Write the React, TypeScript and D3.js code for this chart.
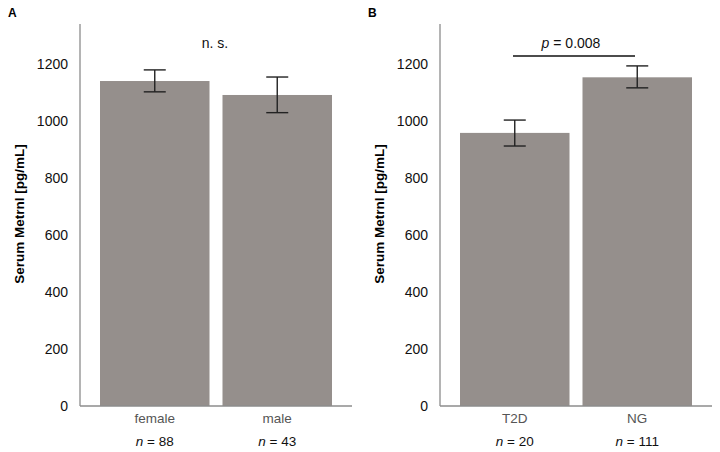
import React from "react";
import * as d3 from "d3";

const panelLabels = ["A", "B"];
const categoriesA = ["female", "male"];
const valuesA = [1140, 1091];
const errLowA = [1102, 1029];
const errHighA = [1179, 1154];
const nA = ["88", "43"];

const categoriesB = ["T2D", "NG"];
const valuesB = [958, 1153];
const errLowB = [912, 1116];
const errHighB = [1003, 1193];
const nB = ["20", "111"];

const yTicks = [0, 200, 400, 600, 800, 1000, 1200];
const yTitle = "Serum Metrnl [pg/mL]";
const annotA = "n. s.";
const annotBValue = "0.008";

const FONT = "Arial, 'Liberation Sans', Helvetica, sans-serif";
const BAR = "#958f8c";
const AXIS = "#8c8c8c";

type PanelProps = {
  x0: number;
  label: string;
  cats: string[];
  vals: number[];
  lo: number[];
  hi: number[];
  ns: string[];
  kind: "ns" | "p";
};

function Panel({ x0, label, cats, vals, lo, hi, ns, kind }: PanelProps) {
  const axisX = 80;
  const axisEnd = 352;
  const y = d3.scaleLinear().domain([0, 1340]).range([406, 24]);
  const x = d3
    .scaleBand()
    .domain(cats)
    .range([100, 332])
    .paddingInner(0.106)
    .paddingOuter(0);
  const bw = x.bandwidth();
  return (
    <g transform={`translate(${x0},0)`}>
      <text x={8} y={17} fontFamily={FONT} fontWeight="bold" fontSize={12}>
        {label}
      </text>
      <text
        transform={`translate(24,214) rotate(-90)`}
        textAnchor="middle"
        fontFamily={FONT}
        fontWeight="bold"
        fontSize={13.5}
      >
        {yTitle}
      </text>
      {yTicks.map((t) => (
        <text
          key={t}
          x={68}
          y={y(t)}
          dy="0.35em"
          textAnchor="end"
          fontFamily={FONT}
          fontSize={14}
          fill="#111"
        >
          {t}
        </text>
      ))}
      {cats.map((c, i) => (
        <rect key={c} x={x(c)} y={y(vals[i])} width={bw} height={y(0) - y(vals[i])} fill={BAR} />
      ))}
      <line x1={axisX} x2={axisX} y1={24} y2={y(0)} stroke={AXIS} strokeWidth={1.3} />
      <line x1={axisX} x2={axisEnd} y1={y(0)} y2={y(0)} stroke={AXIS} strokeWidth={1.3} />
      {cats.map((c, i) => {
        const cx = (x(c) as number) + bw / 2;
        return (
          <g key={c + "e"}>
            <line x1={cx} x2={cx} y1={y(hi[i])} y2={y(lo[i])} stroke="#222" strokeWidth={1.4} />
            <line x1={cx - 11} x2={cx + 11} y1={y(hi[i])} y2={y(hi[i])} stroke="#222" strokeWidth={1.4} />
            <line x1={cx - 11} x2={cx + 11} y1={y(lo[i])} y2={y(lo[i])} stroke="#222" strokeWidth={1.4} />
            <text x={cx} y={423} textAnchor="middle" fontFamily={FONT} fontSize={13.5} fill="#555">
              {c}
            </text>
            <text x={cx} y={446} textAnchor="middle" fontFamily={FONT} fontSize={13.5} fill="#111">
              <tspan fontStyle="italic">n</tspan>
              {" = " + ns[i]}
            </text>
          </g>
        );
      })}
      {kind === "ns" ? (
        <text x={215} y={48} textAnchor="middle" fontFamily={FONT} fontSize={14} fill="#111">
          {annotA}
        </text>
      ) : (
        <g>
          <text x={211} y={48} textAnchor="middle" fontFamily={FONT} fontSize={14} fill="#111">
            <tspan fontStyle="italic">p</tspan>
            {" = " + annotBValue}
          </text>
          <line x1={153} x2={275} y1={56} y2={56} stroke="#111" strokeWidth={1.4} />
        </g>
      )}
    </g>
  );
}

export default function App() {
  return (
    <svg
      width={720}
      height={452}
      style={{ position: "absolute", left: 0, top: 0, background: "#fff" }}
    >
      <rect width={720} height={452} fill="#fff" />
      <Panel x0={0} label={panelLabels[0]} cats={categoriesA} vals={valuesA} lo={errLowA} hi={errHighA} ns={nA} kind="ns" />
      <Panel x0={360} label={panelLabels[1]} cats={categoriesB} vals={valuesB} lo={errLowB} hi={errHighB} ns={nB} kind="p" />
    </svg>
  );
}
